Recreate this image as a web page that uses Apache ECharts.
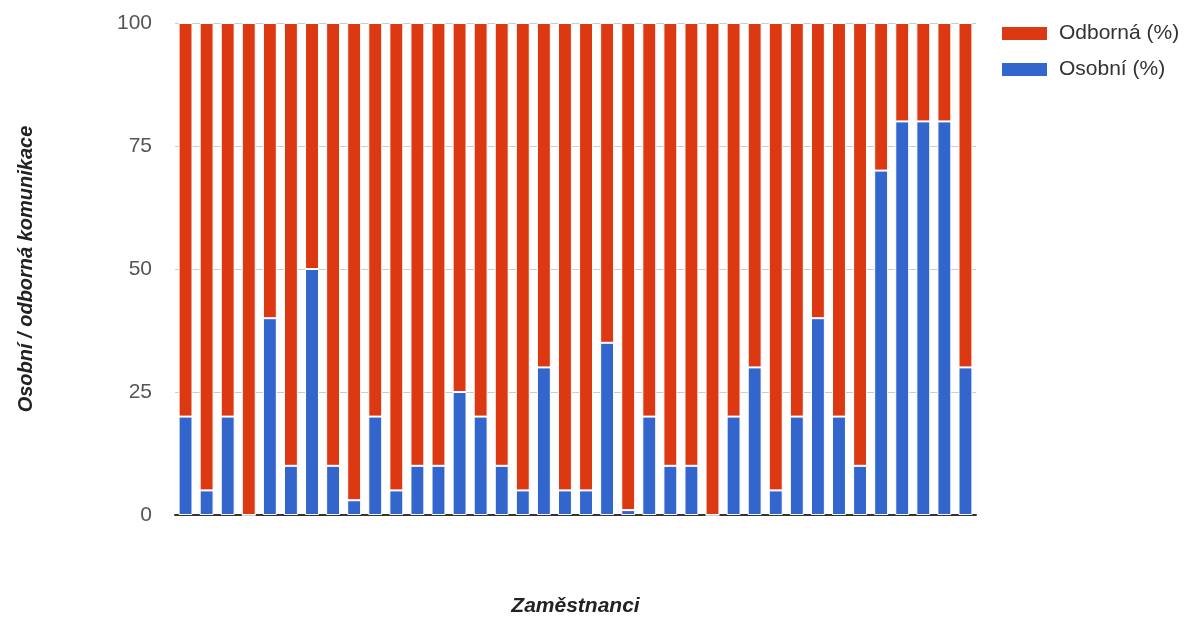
<!DOCTYPE html>
<html>
<head>
<meta charset="utf-8">
<script src="https://cdn.jsdelivr.net/npm/echarts@6/dist/echarts.min.js"></script>
<style>
  html, body { margin: 0; padding: 0; background: #fff; }
  #chart { width: 1195px; height: 622px; }
</style>
</head>
<body>
<div id="chart"></div>
<script>
// Share of personal communication per employee (percent)
const employees = Array.from({ length: 38 }, (_, i) => 'Z' + (i + 1));
const osobni = [20, 5, 20, 0, 40, 10, 50, 10, 3, 20, 5, 10, 10, 25, 20, 10, 5, 30, 5, 5,
                35, 1, 20, 10, 10, 0, 20, 30, 5, 20, 40, 20, 10, 70, 80, 80, 80, 30];
// Professional communication is the remainder up to 100 %
const odborna = osobni.map(v => 100 - v);
const yTicks = [0, 25, 50, 75, 100];

const seriesNames = { odborna: 'Odborná (%)', osobni: 'Osobní (%)' };
const font = '"Liberation Sans", Arial, sans-serif';

const chart = echarts.init(document.getElementById('chart'), null, { renderer: 'canvas' });
chart.setOption({
  animation: false,
  backgroundColor: '#ffffff',
  grid: { left: 175, right: 219, top: 23, bottom: 105, containLabel: false },
  legend: {
    data: [seriesNames.odborna, seriesNames.osobni],
    orient: 'vertical',
    left: 1000,
    top: 23,
    padding: 0,
    itemWidth: 47,
    itemHeight: 15,
    itemGap: 15,
    icon: 'rect',
    textStyle: { fontFamily: font, fontSize: 21, color: '#333', padding: [0, 0, 0, 6] }
  },
  xAxis: {
    type: 'category',
    data: employees,
    name: 'Zaměstnanci',
    nameLocation: 'middle',
    nameGap: 81,
    nameTextStyle: { fontFamily: font, fontSize: 21, fontWeight: 'bold', fontStyle: 'italic', color: '#222' },
    axisLine: { show: true, lineStyle: { color: '#333', width: 2 } },
    axisTick: { show: false },
    axisLabel: { show: false },
    splitLine: { show: false }
  },
  yAxis: {
    type: 'value',
    min: yTicks[0],
    max: yTicks[yTicks.length - 1],
    interval: 25,
    name: 'Osobní / odborná komunikace',
    nameLocation: 'middle',
    nameGap: 139,
    nameRotate: 90,
    nameTextStyle: { fontFamily: font, fontSize: 20, fontWeight: 'bold', fontStyle: 'italic', color: '#222' },
    axisLine: { show: false },
    axisTick: { show: false },
    axisLabel: { fontFamily: font, fontSize: 21, color: '#555', margin: 23 },
    splitLine: { lineStyle: { color: '#cccccc', width: 1 } }
  },
  series: [
    {
      name: seriesNames.osobni,
      type: 'bar',
      stack: 'komunikace',
      data: osobni,
      barCategoryGap: '34%',
      itemStyle: { color: '#3366cc', borderColor: '#ffffff', borderWidth: 1 }
    },
    {
      name: seriesNames.odborna,
      type: 'bar',
      stack: 'komunikace',
      data: odborna,
      barCategoryGap: '34%',
      itemStyle: { color: '#dc3912', borderColor: '#ffffff', borderWidth: 1 }
    }
  ]
});
</script>
</body>
</html>
